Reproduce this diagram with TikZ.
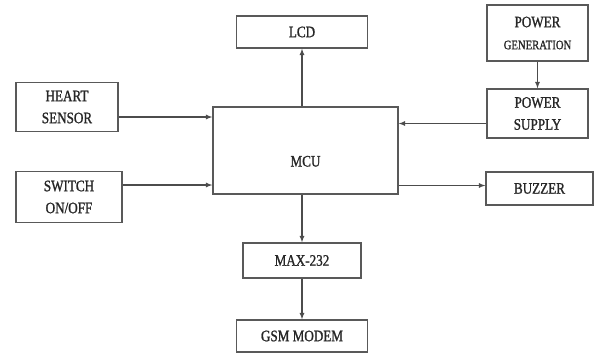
\documentclass[tikz,border=0pt]{standalone}
\usepackage{fontspec}
\setmainfont[FakeStretch=0.82, FakeBold=1.2]{Liberation Serif}
\usepackage{tikz}
\usetikzlibrary{arrows, positioning, calc}
\tikzstyle{block} = [rectangle, draw=black!65, line width=1.3pt, text=black!85, text centered, align=center, inner sep=0pt, font=\fontsize{16}{22}\selectfont]
\tikzstyle{arrow} = [line width=1.2pt, draw=black!70, ->, >=latex]

\begin{document}
\begin{tikzpicture}[x=1pt, y=-1pt]
  \useasboundingbox (0,0) rectangle (595,354);
  \node (mcu) [block, minimum width=185pt, minimum height=87pt, text height=32pt, text depth=0pt] at (305.5,150.5) {MCU};
  \node (lcd) [block, minimum width=131pt, minimum height=32pt] at (302,32) {LCD};
  \node (heart) [block, minimum width=102pt, minimum height=49pt] at (67,107) {HEART\\SENSOR};
  \node (switch) [block, minimum width=106pt, minimum height=51pt] at (69,197) {SWITCH\\ON/OFF};
  \node (pgen) [block, minimum width=101pt, minimum height=56pt] at (537.5,33) {POWER\\{\fontsize{13}{16}\selectfont GENERATION}};
  \node (psup) [block, minimum width=101pt, minimum height=49pt] at (537.5,113.5) {POWER\\SUPPLY};
  \node (buzzer) [block, minimum width=107pt, minimum height=33pt] at (539.5,188.5) {BUZZER};
  \node (max) [block, minimum width=118pt, minimum height=35pt] at (302,260.5) {MAX-232};
  \node (gsm) [block, minimum width=131pt, minimum height=32pt] at (302,336) {GSM MODEM};

  % inputs
  \draw[arrow] ([yshift=-10pt]heart.east) -- ([yshift=-10pt]heart.east -| mcu.west);
  \draw[arrow] ([yshift=12pt]switch.east) -- ([yshift=12pt]switch.east -| mcu.west);
  \draw[arrow] (pgen) -- (psup);
  \draw[arrow] ([yshift=-10pt]psup.west) -- ([yshift=-10pt]psup.west -| mcu.east);
  % outputs
  \draw[arrow] (mcu.north -| lcd.south) -- (lcd.south);
  \draw[arrow] ([yshift=3pt]buzzer.west -| mcu.east) -- ([yshift=3pt]buzzer.west);
  \draw[arrow] (mcu.south -| max.north) -- (max.north);
  \draw[arrow] (max) -- (gsm);
\end{tikzpicture}
\end{document}
